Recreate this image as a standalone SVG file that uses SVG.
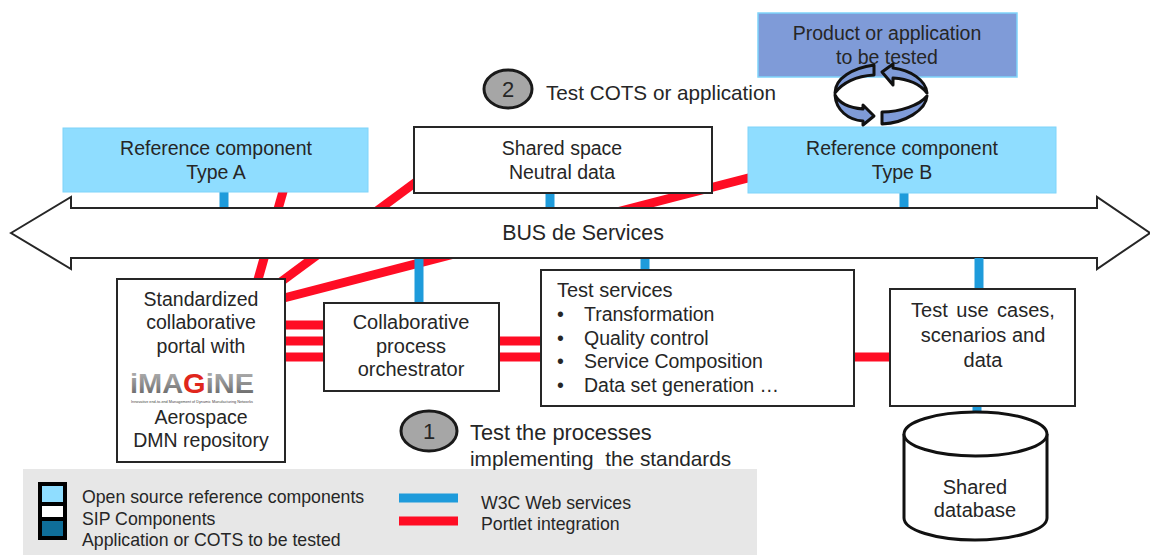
<svg xmlns="http://www.w3.org/2000/svg" width="1150" height="555" viewBox="0 0 1150 555">
<defs>
<linearGradient id="metal" x1="0" y1="0" x2="0" y2="1"><stop offset="0" stop-color="#B5B5B5"/><stop offset="0.55" stop-color="#8A8A8A"/><stop offset="1" stop-color="#5A5A5A"/></linearGradient>
</defs>
<style>
text{font-family:"Liberation Sans",Arial,sans-serif;font-size:19.5px;fill:#262626}
.m{text-anchor:middle}
.box{fill:#fff;stroke:#262626;stroke-width:2}
.ref{fill:#8FDDFF;stroke:#7FD4FA;stroke-width:1}
.red{stroke:#FF0D24;stroke-width:9;fill:none}
.blue{stroke:#1E9BDB;stroke-width:9;fill:none}
.rot{fill:#7F9BD8;stroke:#111;stroke-width:3;stroke-linejoin:round}
.num{fill:#A6A6A6;stroke:#1a1a1a;stroke-width:3}
.cyl{fill:#fff;stroke:#111;stroke-width:3}
.leg{font-size:17.700px}
.big{font-size:22px}
.t20{font-size:20px}
</style>
<g id="legend">
<rect x="23" y="469" width="734" height="86" fill="#E7E7E7"/>
<rect x="38" y="482" width="29" height="58" fill="#000"/>
<rect x="42" y="486" width="21" height="16" fill="#8FDDFF"/>
<rect x="42" y="506" width="21" height="11" fill="#fff"/>
<rect x="42" y="521" width="21" height="15" fill="#0F6E99"/>
<text class="leg" x="82" y="503">Open source reference components</text>
<text class="leg" x="82" y="525">SIP Components</text>
<text class="leg" x="82" y="546">Application or COTS to be tested</text>
<path class="blue" d="M399 498H458"/>
<path class="red" d="M399 521H458"/>
<text class="leg" x="481" y="509">W3C Web services</text>
<text class="leg" x="481" y="530">Portlet integration</text>
</g>
<g id="connectors">
<path class="red" d="M284 188L257 283"/>
<path class="red" d="M420 179L278 284"/>
<path class="red" d="M752 177L280 299"/>
<path class="red" d="M285 325H324M285 341H324M285 357H324"/>
<path class="red" d="M499 341H541M499 357H541"/>
<path class="red" d="M854 357H890"/>
</g>
<g id="bus">
<path d="M11 233L71 197V208H1097V197L1150 233L1097 269V258H71V269Z" fill="#fff" stroke="#262626" stroke-width="2"/>
<text class="m" x="583" y="240" style="font-size:21.400px">BUS de Services</text>
</g>
<g id="connectors-web">
<path class="blue" d="M224 192V207M550 193V207M904 193V207"/>
<path class="blue" d="M419 259V303M645 259V270M979 258V290M977 406V413"/>
</g>
<g id="ref-a">
<rect class="ref" x="63" y="128" width="305" height="64"/>
<text class="m" x="216" y="155">Reference component</text>
<text class="m" x="216" y="179">Type A</text>
</g>
<g id="shared-space">
<rect class="box" x="414" y="127" width="298" height="66"/>
<text class="m" x="562" y="155">Shared space</text>
<text class="m" x="562" y="179">Neutral data</text>
</g>
<g id="ref-b">
<rect class="ref" x="748" y="127" width="308" height="66"/>
<text class="m" x="902" y="155">Reference component</text>
<text class="m" x="902" y="179">Type B</text>
</g>
<g id="product">
<rect x="758" y="13" width="259" height="64" fill="#7F9BD8" stroke="#7FD4FA" stroke-width="1.5"/>
<text class="m" x="887" y="40">Product or application</text>
<text class="m" x="887" y="64">to be tested</text>
</g>
<g id="cycle">
<path class="rot" d="M874 65C853 68 835 78 835 93C842 83 856 76 874 75Z"/>
<path class="rot" d="M835 95C840 105 852 108 863 109V105L874 116L863 125V121C848 120 836 110 835 95Z"/>
<path class="rot" d="M882 72L893 64V68C910 70 926 80 927 93C920 84 908 79 893 78V85Z"/>
<path class="rot" d="M882 112C900 112 920 105 927 96C926 110 905 123 882 124Z"/>
</g>
<g id="step-2">
<ellipse class="num" cx="508" cy="89" rx="24" ry="19"/>
<text class="m big" x="508" y="97">2</text>
<text x="546" y="100" style="font-size:20.700px">Test COTS or application</text>
</g>
<g id="portal">
<rect class="box" x="117" y="279" width="168" height="183"/>
<text class="m" x="201" y="306">Standardized</text>
<text class="m" x="201" y="329">collaborative</text>
<text class="m" x="201" y="353">portal with</text>
<text x="130" y="393" textLength="124" lengthAdjust="spacingAndGlyphs" style="font-size:27px;font-weight:bold;fill:url(#metal)">iMA<tspan style="fill:#E0261C">G</tspan>iNE</text>
<text x="131" y="403" textLength="122" lengthAdjust="spacingAndGlyphs" style="font-size:3.500px;fill:#444">Innovative end-to-end Management of Dynamic Manufacturing Networks</text>
<text class="m" x="201" y="424">Aerospace</text>
<text class="m" x="201" y="447">DMN repository</text>
</g>
<g id="orchestrator">
<rect class="box" x="324" y="303" width="175" height="88"/>
<text class="m t20" x="411" y="329">Collaborative</text>
<text class="m t20" x="411" y="353">process</text>
<text class="m t20" x="411" y="376">orchestrator</text>
</g>
<g id="test-services">
<rect class="box" x="541" y="270" width="313" height="136"/>
<text class="t20" x="557" y="297">Test services</text>
<text x="557" y="321">•</text><text x="584" y="321">Transformation</text>
<text x="557" y="345">•</text><text x="584" y="345">Quality control</text>
<text x="557" y="368">•</text><text x="584" y="368">Service Composition</text>
<text x="557" y="392">•</text><text x="584" y="392">Data set generation …</text>
</g>
<g id="use-cases">
<rect class="box" x="890" y="289" width="185" height="117"/>
<text class="m t20" x="983" y="317" style="word-spacing:3px">Test use cases,</text>
<text class="m t20" x="983" y="342">scenarios and</text>
<text class="m t20" x="983" y="367">data</text>
</g>
<g id="database">
<path class="cyl" d="M904 434V518C904 530 936 540 975 540C1014 540 1047 530 1047 518V434"/>
<ellipse class="cyl" cx="975.500" cy="434" rx="71.500" ry="22"/>
<text class="m t20" x="975" y="494">Shared</text>
<text class="m t20" x="975" y="517">database</text>
</g>
<g id="step-1">
<ellipse class="num" cx="429" cy="431" rx="28" ry="20"/>
<text class="m big" x="429" y="439">1</text>
<text x="470" y="440" style="font-size:21.800px">Test the processes</text>
<text x="470" y="466" xml:space="preserve" style="font-size:20.800px">implementing  the standards</text>
</g>
</svg>
